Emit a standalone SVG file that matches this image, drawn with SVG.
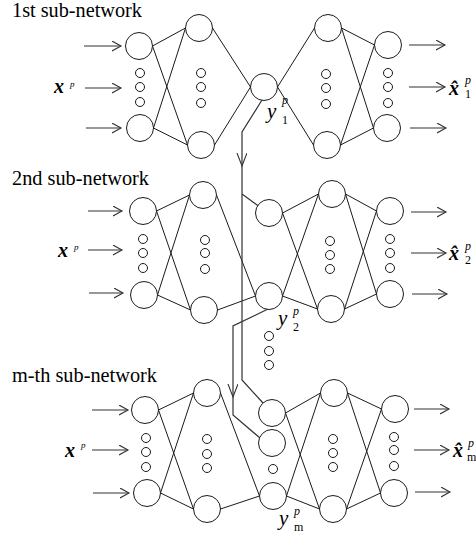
<svg xmlns="http://www.w3.org/2000/svg" width="476" height="536" viewBox="0 0 476 536">
<defs>
<marker id="ah" markerUnits="userSpaceOnUse" markerWidth="12" markerHeight="12" refX="9" refY="5" orient="auto">
<path d="M0,0 L9,5 L0,10" fill="none" stroke="#333" stroke-width="1.1"/>
</marker>
<marker id="ch" markerUnits="userSpaceOnUse" markerWidth="16" markerHeight="12" refX="13" refY="5" orient="auto">
<path d="M0,0 L13,5 L0,10" fill="none" stroke="#333" stroke-width="1.1"/>
</marker>
</defs>
<rect x="0" y="0" width="476" height="536" fill="#fff"/>

<g id="connectors" fill="none" stroke="#1a1a1a" stroke-width="1">
<path d="M152.5,46 L185.5,28 M152.5,46 L187.5,145 M153.5,128 L185.5,28 M153.5,128 L187.5,145 M212.5,28 L250.5,87 M214.5,145 L250.5,87 M277.5,87 L314.5,28 M277.5,87 L313.5,145 M341.5,28 L374.5,45 M341.5,28 L373.5,128 M340.5,145 L374.5,45 M340.5,145 L373.5,128"/>
<path d="M156.5,211 L189.5,195 M156.5,211 L190.5,310 M157.5,295 L189.5,195 M157.5,295 L190.5,310 M216.5,195 L255.5,296 M217.5,310 L255.5,296 M282.5,213 L318.5,194 M282.5,213 L317.5,309 M282.5,296 L318.5,194 M282.5,296 L317.5,309 M345.5,194 L376.5,211 M345.5,194 L376.5,294 M344.5,309 L376.5,211 M344.5,309 L376.5,294"/>
<path d="M158.5,410 L193.5,393 M158.5,410 L193.5,509 M160.5,493 L193.5,393 M160.5,493 L193.5,509 M220.5,393 L259.5,496 M220.5,509 L259.5,496 M285.5,413 L320.5,393 M285.5,413 L319.5,509 M286.5,496 L320.5,393 M286.5,496 L319.5,509 M347.5,393 L381.5,409 M347.5,393 L380.5,493 M346.5,509 L381.5,409 M346.5,509 L380.5,493"/>
<g stroke="#333" stroke-width="1.1" marker-end="url(#ah)">
<path d="M84,46 H121"/><path d="M85,88 H121"/><path d="M86,128 H121"/>
<path d="M409,45 H445"/><path d="M409,87 H445"/><path d="M410,128 H446"/>
<path d="M88,211 H122"/><path d="M88,250 H122"/><path d="M89,293 H123"/>
<path d="M411,212 H446"/><path d="M411,253 H446"/><path d="M412,294 H447"/>
<path d="M92,410 H128"/><path d="M92,450 H128"/><path d="M93,493 H129"/>
<path d="M414,409 H449"/><path d="M414,450 H449"/><path d="M415,492 H450"/>
</g>
<g stroke="#333" stroke-width="1.2">
<path d="M262,100 L242,132 L242,166" marker-end="url(#ch)"/>
<path d="M242,166 L242,380 L263,403"/>
<path d="M242,194 L258.5,206"/>
<path d="M268,309 L233,326 L233,397" marker-end="url(#ch)"/>
<path d="M233,397 L233,415 L260,438"/>
</g>
</g>

<g id="nodes" fill="#fff" stroke="#1a1a1a" stroke-width="1">
<g id="n1-in-top"><circle cx="139" cy="46" r="13.5"/></g>
<g id="n1-in-dots"><circle cx="140" cy="73" r="4.5"/><circle cx="140" cy="87" r="4.5"/><circle cx="140" cy="102" r="4.5"/></g>
<g id="n1-in-bot"><circle cx="140" cy="128" r="13.5"/></g>
<g id="n1-h1-top"><circle cx="199" cy="28" r="13.5"/></g>
<g id="n1-h1-dots"><circle cx="201" cy="73" r="4.5"/><circle cx="201" cy="87" r="4.5"/><circle cx="201" cy="103" r="4.5"/></g>
<g id="n1-h1-bot"><circle cx="201" cy="145" r="13.5"/></g>
<g id="n1-y"><circle cx="264" cy="87" r="13.5"/></g>
<g id="n1-h2-top"><circle cx="328" cy="28" r="13.5"/></g>
<g id="n1-h2-dots"><circle cx="326" cy="74" r="4.5"/><circle cx="326" cy="88" r="4.5"/><circle cx="326" cy="104" r="4.5"/></g>
<g id="n1-h2-bot"><circle cx="327" cy="145" r="13.5"/></g>
<g id="n1-out-top"><circle cx="388" cy="45" r="13.5"/></g>
<g id="n1-out-dots"><circle cx="388" cy="73" r="4.5"/><circle cx="388" cy="87" r="4.5"/><circle cx="388" cy="103" r="4.5"/></g>
<g id="n1-out-bot"><circle cx="387" cy="128" r="13.5"/></g>

<g id="n2-in-top"><circle cx="143" cy="211" r="13.5"/></g>
<g id="n2-in-dots"><circle cx="143" cy="239" r="4.5"/><circle cx="143" cy="253" r="4.5"/><circle cx="143" cy="268" r="4.5"/></g>
<g id="n2-in-bot"><circle cx="144" cy="295" r="13.5"/></g>
<g id="n2-h1-top"><circle cx="203" cy="195" r="13.5"/></g>
<g id="n2-h1-dots"><circle cx="205" cy="240" r="4.5"/><circle cx="205" cy="253" r="4.5"/><circle cx="205" cy="269" r="4.5"/></g>
<g id="n2-h1-bot"><circle cx="204" cy="310" r="13.5"/></g>
<g id="n2-b-top"><circle cx="269" cy="213" r="13.5"/></g>
<g id="n2-y"><circle cx="269" cy="296" r="13.5"/></g>
<g id="n2-h2-top"><circle cx="332" cy="194" r="13.5"/></g>
<g id="n2-h2-dots"><circle cx="330" cy="241" r="4.5"/><circle cx="330" cy="255" r="4.5"/><circle cx="330" cy="269" r="4.5"/></g>
<g id="n2-h2-bot"><circle cx="331" cy="309" r="13.5"/></g>
<g id="n2-out-top"><circle cx="390" cy="211" r="13.5"/></g>
<g id="n2-out-dots"><circle cx="390" cy="239" r="4.5"/><circle cx="390" cy="253" r="4.5"/><circle cx="390" cy="268" r="4.5"/></g>
<g id="n2-out-bot"><circle cx="390" cy="294" r="13.5"/></g>
<g id="between-dots"><circle cx="269" cy="336" r="4.5"/><circle cx="269" cy="351" r="4.5"/><circle cx="269" cy="365" r="4.5"/></g>

<g id="nm-in-top"><circle cx="145" cy="410" r="13.5"/></g>
<g id="nm-in-dots"><circle cx="146" cy="438" r="4.5"/><circle cx="146" cy="452" r="4.5"/><circle cx="146" cy="467" r="4.5"/></g>
<g id="nm-in-bot"><circle cx="147" cy="493" r="13.5"/></g>
<g id="nm-h1-top"><circle cx="207" cy="393" r="13.5"/></g>
<g id="nm-h1-dots"><circle cx="207" cy="439" r="4.5"/><circle cx="207" cy="454" r="4.5"/><circle cx="207" cy="468" r="4.5"/></g>
<g id="nm-h1-bot"><circle cx="207" cy="509" r="13.5"/></g>
<g id="nm-b1"><circle cx="272" cy="413" r="13.5"/></g>
<g id="nm-b2"><circle cx="272" cy="443" r="13.5"/></g>
<g id="nm-b-dot"><circle cx="273" cy="469" r="4.5"/></g>
<g id="nm-y"><circle cx="273" cy="496" r="13.5"/></g>
<g id="nm-h2-top"><circle cx="334" cy="393" r="13.5"/></g>
<g id="nm-h2-dots"><circle cx="333" cy="439" r="4.5"/><circle cx="333" cy="453" r="4.5"/><circle cx="333" cy="467" r="4.5"/></g>
<g id="nm-h2-bot"><circle cx="333" cy="509" r="13.5"/></g>
<g id="nm-out-top"><circle cx="395" cy="409" r="13.5"/></g>
<g id="nm-out-dots"><circle cx="394" cy="437" r="4.5"/><circle cx="394" cy="450" r="4.5"/><circle cx="394" cy="466" r="4.5"/></g>
<g id="nm-out-bot"><circle cx="394" cy="493" r="13.5"/></g>
</g>

<text x="12" y="17" style="font-family:'Liberation Serif',serif;font-size:20px" textLength="130" lengthAdjust="spacingAndGlyphs">1st sub-network</text>
<text x="12" y="185" style="font-family:'Liberation Serif',serif;font-size:20px" textLength="137" lengthAdjust="spacingAndGlyphs">2nd sub-network</text>
<text x="12" y="382" style="font-family:'Liberation Serif',serif;font-size:20px" textLength="145" lengthAdjust="spacingAndGlyphs">m-th sub-network</text>

<text x="54" y="93" style="font-family:'Liberation Serif',serif;font-size:20px;font-weight:bold;font-style:italic">x</text>
<text x="70" y="87" style="font-family:'Liberation Serif',serif;font-size:9px;font-style:italic">p</text>
<text x="58" y="257" style="font-family:'Liberation Serif',serif;font-size:20px;font-weight:bold;font-style:italic">x</text>
<text x="74" y="250" style="font-family:'Liberation Serif',serif;font-size:9px;font-style:italic">p</text>
<text x="65" y="457" style="font-family:'Liberation Serif',serif;font-size:20px;font-weight:bold;font-style:italic">x</text>
<text x="81" y="448" style="font-family:'Liberation Serif',serif;font-size:9px;font-style:italic">p</text>

<text x="449" y="95" style="font-family:'Liberation Serif',serif;font-size:20px;font-weight:bold;font-style:italic">x&#x302;</text>
<text x="465" y="84" style="font-family:'Liberation Serif',serif;font-size:12px;font-style:italic">p</text>
<text x="465" y="98" style="font-family:'Liberation Serif',serif;font-size:12px">1</text>
<text x="449" y="260" style="font-family:'Liberation Serif',serif;font-size:20px;font-weight:bold;font-style:italic">x&#x302;</text>
<text x="465" y="250" style="font-family:'Liberation Serif',serif;font-size:12px;font-style:italic">p</text>
<text x="465" y="264" style="font-family:'Liberation Serif',serif;font-size:12px">2</text>
<text x="453" y="457" style="font-family:'Liberation Serif',serif;font-size:20px;font-weight:bold;font-style:italic">x&#x302;</text>
<text x="468" y="447" style="font-family:'Liberation Serif',serif;font-size:12px;font-style:italic">p</text>
<text x="467" y="461" style="font-family:'Liberation Serif',serif;font-size:12px">m</text>

<text x="267" y="118" style="font-family:'Liberation Serif',serif;font-size:21px;font-style:italic">y</text>
<text x="282" y="104" style="font-family:'Liberation Serif',serif;font-size:12px;font-style:italic">p</text>
<text x="282" y="124" style="font-family:'Liberation Serif',serif;font-size:12px">1</text>
<text x="278" y="325" style="font-family:'Liberation Serif',serif;font-size:21px;font-style:italic">y</text>
<text x="293" y="315" style="font-family:'Liberation Serif',serif;font-size:12px;font-style:italic">p</text>
<text x="293" y="331" style="font-family:'Liberation Serif',serif;font-size:12px">2</text>
<text x="279" y="525" style="font-family:'Liberation Serif',serif;font-size:21px;font-style:italic">y</text>
<text x="294" y="515" style="font-family:'Liberation Serif',serif;font-size:12px;font-style:italic">p</text>
<text x="294" y="531" style="font-family:'Liberation Serif',serif;font-size:12px">m</text>
</svg>
